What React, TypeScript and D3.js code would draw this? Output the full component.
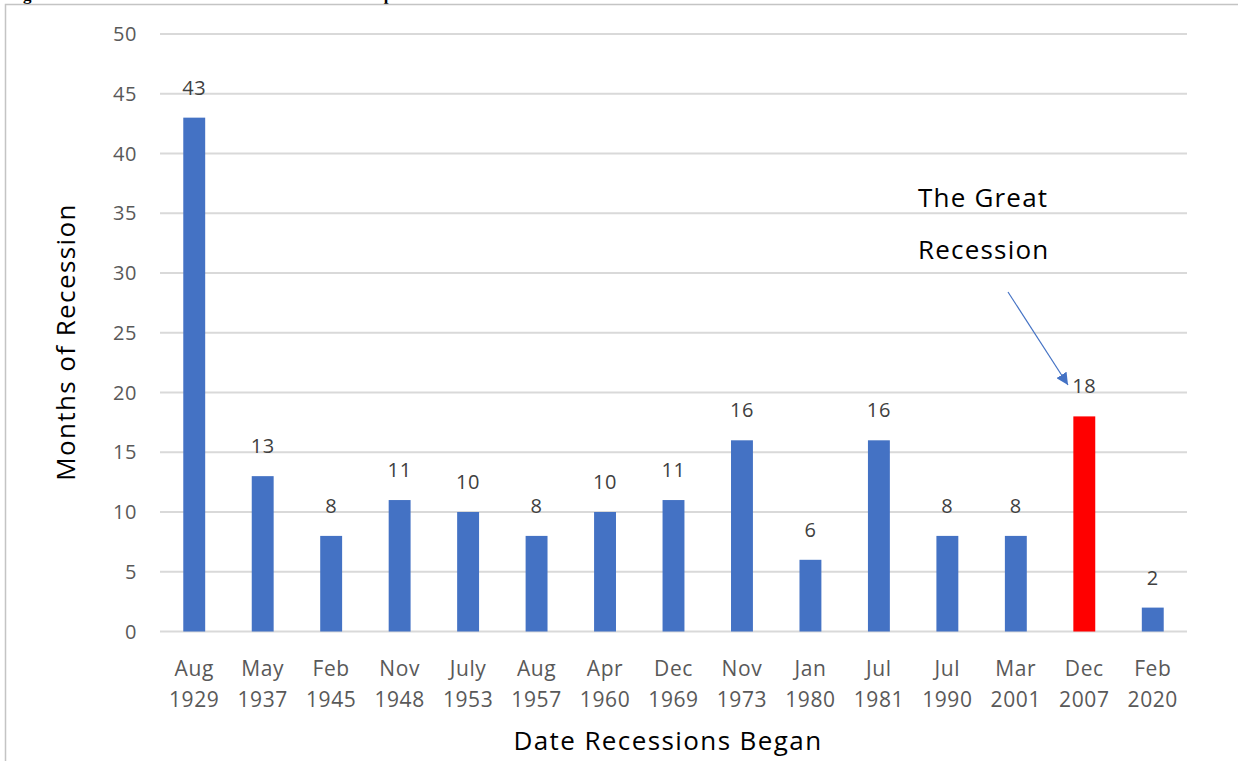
import * as d3 from "d3";
import React, { useRef, useEffect } from "react";

const months = ["Aug", "May", "Feb", "Nov", "July", "Aug", "Apr", "Dec", "Nov", "Jan", "Jul", "Jul", "Mar", "Dec", "Feb"];
const years = ["1929", "1937", "1945", "1948", "1953", "1957", "1960", "1969", "1973", "1980", "1981", "1990", "2001", "2007", "2020"];
const durations = [43, 13, 8, 11, 10, 8, 10, 11, 16, 6, 16, 8, 8, 18, 2];
const yTicks = [0, 5, 10, 15, 20, 25, 30, 35, 40, 45, 50];
const highlighted = ["Dec 2007"];

const width = 1238;
const height = 761;
const font = "'Open Sans', 'Noto Sans', sans-serif";

const RecessionChart = () => {
  const ref = useRef<SVGSVGElement>(null);

  useEffect(() => {
    const svg = d3.select(ref.current);
    svg.selectAll("*").remove();

    const labels = months.map((m, i) => `${m} ${years[i]}`);
    const data = labels.map((label, i) => ({ label, month: months[i], year: years[i], value: durations[i] }));

    const x = d3.scaleBand().domain(labels).range([160, 1187]).paddingInner(0.68).paddingOuter(0.34);
    const y = d3.scaleLinear().domain([0, 50]).range([631.5, 34]);

    // caption, cut off at the top edge like in the source
    svg
      .append("text")
      .attr("x", 8)
      .attr("y", -0.5)
      .attr("font-family", "'Liberation Serif', serif")
      .attr("font-weight", "bold")
      .attr("font-size", 17)
      .text("Figure 1. Duration of Recessions Since the Great Depression");

    // frame
    svg
      .append("rect")
      .attr("x", 5.5)
      .attr("y", 4.5)
      .attr("width", width + 10)
      .attr("height", height + 10)
      .attr("fill", "none")
      .attr("stroke", "#c4c4c4")
      .attr("stroke-width", 1.5);

    // grid
    svg
      .append("g")
      .selectAll("line")
      .data(yTicks)
      .join("line")
      .attr("x1", 160)
      .attr("x2", 1187)
      .attr("y1", (d) => y(d))
      .attr("y2", (d) => y(d))
      .attr("stroke", "#d9d9d9")
      .attr("stroke-width", 2);

    svg
      .append("g")
      .selectAll("text")
      .data(yTicks)
      .join("text")
      .attr("x", 137)
      .attr("y", (d) => y(d) + 7)
      .attr("text-anchor", "end")
      .attr("font-family", font)
      .attr("font-size", 20)
      .attr("letter-spacing", 0.6)
      .attr("fill", "#595959")
      .text((d) => d);

    // bars
    svg
      .append("g")
      .selectAll("rect")
      .data(data)
      .join("rect")
      .attr("x", (d) => x(d.label)!)
      .attr("width", x.bandwidth())
      .attr("y", (d) => y(d.value))
      .attr("height", (d) => y(0) - y(d.value))
      .attr("fill", (d) => (highlighted.includes(d.label) ? "#ff0000" : "#4472c4"));

    // value labels
    svg
      .append("g")
      .selectAll("text")
      .data(data)
      .join("text")
      .attr("x", (d) => x(d.label)! + x.bandwidth() / 2)
      .attr("y", (d) => y(d.value) - 23)
      .attr("text-anchor", "middle")
      .attr("font-family", font)
      .attr("font-size", 20)
      .attr("letter-spacing", 0.6)
      .attr("fill", "#404040")
      .text((d) => d.value);

    // category labels
    const cat = svg
      .append("g")
      .selectAll("text")
      .data(data)
      .join("text")
      .attr("text-anchor", "middle")
      .attr("font-family", font)
      .attr("font-size", 21)
      .attr("letter-spacing", 0.6)
      .attr("fill", "#595959");
    cat
      .append("tspan")
      .attr("x", (d) => x(d.label)! + x.bandwidth() / 2)
      .attr("y", 676)
      .text((d) => d.month);
    cat
      .append("tspan")
      .attr("x", (d) => x(d.label)! + x.bandwidth() / 2)
      .attr("y", 707)
      .text((d) => d.year);

    // axis titles
    svg
      .append("text")
      .attr("x", 668)
      .attr("y", 750)
      .attr("text-anchor", "middle")
      .attr("font-family", font)
      .attr("font-size", 26)
      .attr("letter-spacing", 1.4)
      .attr("fill", "#000")
      .text("Date Recessions Began");

    svg
      .append("text")
      .attr("transform", "translate(75,342) rotate(-90)")
      .attr("text-anchor", "middle")
      .attr("font-family", font)
      .attr("font-size", 26)
      .attr("letter-spacing", 1.4)
      .attr("fill", "#000")
      .text("Months of Recession");

    // annotation
    const note = svg
      .append("text")
      .attr("font-family", font)
      .attr("font-size", 26)
      .attr("letter-spacing", 1.2)
      .attr("fill", "#000");
    note.append("tspan").attr("x", 918).attr("y", 207).text("The Great");
    note.append("tspan").attr("x", 918).attr("y", 259).text("Recession");

    svg
      .append("defs")
      .append("marker")
      .attr("id", "arrow")
      .attr("viewBox", "0 0 10 10")
      .attr("refX", 10)
      .attr("refY", 5)
      .attr("markerWidth", 12)
      .attr("markerHeight", 12)
      .attr("markerUnits", "userSpaceOnUse")
      .attr("orient", "auto")
      .append("path")
      .attr("d", "M0,0 L10,5 L0,10 Z")
      .attr("fill", "#4472c4");

    svg
      .append("line")
      .attr("x1", 1008)
      .attr("y1", 292)
      .attr("x2", 1068)
      .attr("y2", 385)
      .attr("stroke", "#4472c4")
      .attr("stroke-width", 1.2)
      .attr("marker-end", "url(#arrow)");
  }, []);

  return (
    <div style={{ position: "fixed", left: 0, top: 0 }}>
      <svg ref={ref} width={width} height={height} style={{ display: "block", background: "#fff" }}></svg>
    </div>
  );
};

export default function App() {
  return <RecessionChart />;
}
